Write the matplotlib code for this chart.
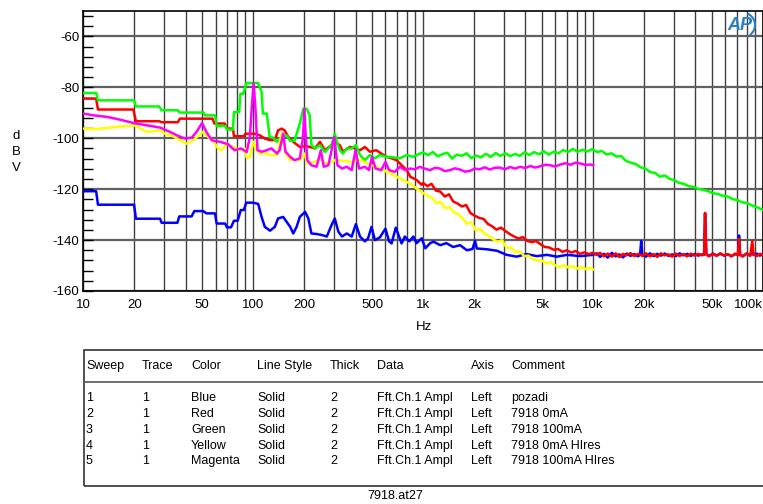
import matplotlib
matplotlib.use("Agg")
import matplotlib.pyplot as plt
from matplotlib.ticker import FixedLocator, MultipleLocator
from matplotlib.patches import Arc, Rectangle
from matplotlib.lines import Line2D

plt.rcParams['font.family'] = ['Liberation Sans', 'DejaVu Sans']
plt.rcParams['axes.unicode_minus'] = False

# sweep 1 - blue (pozadi)
blue_f = [10, 11.9, 12.2, 19.9, 20.4, 28.3, 28.9, 35.8, 36.7, 43.4, 45, 50.8, 53, 59.6,
          60.9, 68.4, 70, 74, 77, 81, 84.5, 88, 91, 100, 107, 112, 117, 125.6, 134, 140,
          150, 157, 165, 172, 180, 188, 202, 211, 220, 236, 253, 271, 289, 302, 317, 333,
          355, 380, 402, 425, 454, 474, 497, 520, 557, 600, 630, 652, 690, 747, 780, 830,
          875, 915, 980, 1030, 1100, 1150, 1260, 1370, 1500, 1650, 1810, 1950, 2020, 2070,
          2370, 2720, 3100, 3550, 4070, 4660, 5350, 6130, 7030, 8430, 10000,
          10500, 11000, 11600, 12200, 12900, 13600, 14300, 15000, 15800, 16600, 17500,
          18400, 18900, 19200, 19500, 20500, 21600, 22700, 23900, 25100, 26400, 27800,
          29200, 30700, 32300, 34000, 35800, 37600, 39600, 41600, 43800, 45000, 45600,
          46400, 48200, 50700, 53300, 56100, 59000, 62000, 65200, 68600, 71200, 72300,
          73400, 76000, 80000, 84000, 86500, 88000, 92000, 96000, 100000]
blue_db = [-120.8, -120.8, -126.1, -126.1, -131.6, -131.6, -133.2, -133.2, -130.7, -130.7,
           -128.6, -128.6, -129.5, -129.5, -133.5, -133.5, -135.0, -135.0, -132.4, -132.4,
           -128.2, -128.2, -125.3, -125.3, -125.8, -130.9, -134.8, -136.3, -134.8, -131.5,
           -130.9, -132.8, -134.8, -137.4, -134.8, -130.9, -128.9, -131.5, -137.4, -137.6,
           -138.0, -138.6, -134.1, -131.5, -136.7, -138.6, -137.4, -138.6, -133.7, -138.6,
           -140.5, -139.3, -134.8, -140.0, -138.9, -135.5, -140.5, -141.3, -135.1, -141.3,
           -138.6, -140.5, -138.6, -141.2, -139.3, -143.2, -141.2, -140.6, -142.0, -141.2,
           -142.7, -142.0, -144.0, -143.5, -140.3, -143.3, -143.6, -144.2, -145.8, -146.5,
           -145.5, -146.3, -145.8, -146.5, -145.8, -146.3, -145.8,
           -145.2, -146.6, -145.4, -146.9, -145.0, -146.4, -145.6, -146.8, -145.3, -146.2,
           -145.5, -146.4, -145.6, -140.4, -145.8, -146.5, -145.2, -146.3, -145.4, -146.1,
           -145.3, -146.2, -145.6, -146.3, -145.2, -146.0, -145.4, -146.2, -145.5, -146.1,
           -145.6, -145.8, -129.5, -145.5, -146.2, -145.3, -146.0, -145.4, -146.1, -145.6,
           -146.3, -145.5, -145.8, -138.2, -145.9, -146.2, -145.4, -146.0, -144.8, -145.9,
           -145.3, -146.1, -145.5]

# sweep 2 - red (7918 0mA)
red_f = [10, 11.9, 12.2, 19.7, 20.4, 28, 28.9, 36, 37, 57.7, 59, 68, 70, 76, 77, 88, 90,
         102, 109, 117, 125, 134, 140, 147, 153, 161, 172, 188, 206, 215, 231, 247, 264,
         283, 302, 323, 338, 370, 396, 425, 454, 486, 530, 567, 609, 652, 698, 747, 800,
         840, 915, 980, 1000, 1060, 1120, 1190, 1260, 1340, 1420, 1500, 1600, 1690, 1790,
         1900, 2010, 2140, 2270, 2400, 2550, 2700, 2870, 3040, 3230, 3430, 3640, 3860,
         4100, 4350, 4620, 4900, 5200, 5520, 5860, 6220, 6600, 7010, 7440, 7900, 8380,
         8900, 9450,
         10000, 10500, 11000, 11600, 12200, 12900, 13600, 14300, 15000, 15800, 16600,
         17500, 18400, 19500, 20500, 21600, 22700, 23900, 25100, 26400, 27800, 29200,
         30700, 32300, 34000, 35800, 37600, 39600, 41600, 43800, 45000, 45600, 46400,
         48200, 50700, 53300, 56100, 59000, 62000, 65200, 68600, 71200, 72300, 73400,
         76000, 80000, 84000, 86500, 88000, 92000, 96000, 100000]
red_db = [-84.4, -84.4, -88.7, -88.7, -93.3, -93.3, -93.7, -93.7, -92.3, -92.3, -94.2,
          -94.2, -96.2, -96.2, -99.2, -99.2, -98.2, -98.2, -98.8, -100.1, -100.7, -100.7,
          -96.9, -96.2, -96.9, -99.5, -101.4, -103.4, -103.1, -103.4, -104.0, -101.4,
          -104.7, -103.1, -101.4, -102.7, -105.3, -103.4, -104.0, -104.7, -103.4, -105.3,
          -104.7, -106.0, -107.3, -107.9, -108.6, -110.6, -112.5, -115.1, -116.4, -118.3,
          -117.6, -118.8, -117.9, -120.6, -120.9, -122.9, -122.0, -124.8, -125.7, -126.8,
          -126.2, -129.4, -130.4, -131.3, -131.7, -133.6, -134.6, -135.9, -135.1, -136.4,
          -137.6, -138.6, -139.4, -138.8, -140.3, -140.8, -140.4, -141.6, -142.7, -142.9,
          -143.8, -143.5, -144.6, -144.0, -144.9, -144.3, -145.4, -144.8, -145.5,
          -145.0, -145.8, -145.0, -146.4, -145.3, -146.5, -145.2, -146.7, -145.4, -146.0,
          -145.1, -146.3, -145.4, -146.2, -145.2, -146.4, -145.5, -146.6, -145.2, -146.0,
          -145.6, -146.5, -145.3, -146.2, -145.5, -146.4, -145.3, -146.1, -145.4, -146.0,
          -145.6, -129.3, -145.7, -146.4, -145.4, -146.2, -145.2, -146.0, -145.5, -146.4,
          -145.3, -146.0, -139.5, -145.8, -146.5, -145.2, -146.2, -140.3, -145.6, -146.3,
          -145.4, -145.8]

# sweep 3 - green (7918 100mA)
green_f = [10, 11.9, 12.2, 19.9, 20.4, 28, 28.9, 36, 37, 51, 52, 59.6, 61, 68.6, 70, 76,
           77, 82.7, 84, 87.5, 91, 107, 112, 114, 120, 125, 131, 138, 147, 157, 165, 175,
           188, 197, 206, 215, 220, 231, 247, 264, 289, 302, 313, 323, 338, 355, 380, 402,
           425, 454, 486, 520, 555, 609, 670, 730, 800, 875, 955,
           1000, 1070, 1140, 1220, 1300, 1390, 1480, 1580, 1690, 1800, 1920, 2050, 2190,
           2340, 2500, 2670, 2850, 3040, 3250, 3470, 3700, 3950, 4220, 4500, 4810, 5130,
           5480, 5850, 6250, 6670, 7120, 7600, 8120, 8670, 9250, 9880, 10550, 11260, 12020,
           12840, 13710, 14640, 15630, 16690, 17820, 19030, 20320, 21700, 23170, 24740,
           26420, 28210, 30120, 32160, 34340, 36670, 39160, 41810, 44650, 47680, 50910,
           54360, 58050, 61990, 66190, 70680, 75470, 80590, 86060, 91890, 100000]
green_db = [-82.2, -82.2, -85.1, -85.1, -87.5, -87.5, -89.0, -89.0, -89.9, -89.9, -91.0,
            -91.0, -95.2, -95.2, -96.6, -96.6, -89.7, -89.7, -82.5, -82.5, -78.3, -78.3,
            -81.8, -90.3, -90.3, -99.5, -99.8, -101.4, -99.5, -98.8, -101.0, -101.0, -94.2,
            -88.4, -88.4, -91.0, -102.7, -104.0, -102.7, -105.4, -102.7, -98.2, -102.0,
            -104.7, -106.0, -104.0, -104.0, -102.7, -106.6, -108.6, -106.6, -107.9, -106.6,
            -107.3, -107.5, -107.9, -106.6, -107.3, -106.0,
            -105.6, -106.6, -105.4, -107.1, -106.2, -105.7, -108.0, -106.4, -106.9, -105.9,
            -107.8, -106.8, -107.5, -106.1, -107.3, -105.8, -106.9, -105.9, -107.0, -106.2,
            -106.9, -105.5, -106.6, -105.4, -106.3, -105.1, -106.4, -105.3, -105.9, -104.6,
            -105.4, -104.2, -105.3, -104.5, -105.2, -104.3, -105.4, -105.0, -106.4, -105.9,
            -107.2, -107.0, -108.9, -109.6, -110.1, -111.4, -111.9, -113.3, -113.6, -115.1,
            -114.6, -115.9, -116.5, -117.6, -117.9, -118.9, -119.1, -119.9, -120.3, -120.8,
            -121.6, -121.9, -122.6, -122.9, -123.9, -124.3, -125.2, -125.4, -126.4, -127.0,
            -128.2]

# sweep 4 - yellow (7918 0mA HIres)
yellow_f = [10, 11.9, 14.4, 17.2, 20.2, 23.6, 28.3, 30.2, 33.8, 37, 40.6, 44.4, 50.4, 54.4,
            58.1, 62.2, 65.1, 69.9, 76.1, 83.4, 89.2, 91.5, 95.6, 100, 104.8, 109, 120, 128,
            138, 147, 155, 165, 175, 188, 200, 208, 231, 247, 264, 289, 302, 338, 380, 425,
            474, 530, 583, 640, 698, 765, 838, 915,
            1000, 1060, 1130, 1200, 1270, 1350, 1430, 1520, 1610, 1710, 1810, 1920, 2040,
            2160, 2300, 2440, 2590, 2750, 2920, 3100, 3290, 3490, 3700, 3930, 4170, 4430,
            4700, 4990, 5300, 5620, 5970, 6340, 6730, 7140, 7580, 8050, 8540, 9070, 9620,
            10000]
yellow_db = [-96.2, -96.4, -95.8, -95.3, -95.0, -97.5, -96.9, -98.2, -99.2, -100.8, -102.1,
             -100.8, -97.5, -99.5, -101.1, -104.0, -104.7, -102.1, -103.4, -104.7, -104.0,
             -107.6, -107.3, -101.4, -104.7, -106.0, -106.0, -106.6, -106.6, -98.2, -106.0,
             -108.6, -108.0, -108.6, -106.0, -109.9, -109.3, -108.0, -109.9, -109.3, -108.6,
             -108.9, -109.3, -108.4, -110.1, -111.2, -112.5, -113.8, -115.1, -116.5, -117.8,
             -119.7,
             -121.5, -122.6, -123.4, -125.6, -125.0, -127.5, -127.0, -129.2, -129.8, -131.6,
             -133.6, -133.0, -136.2, -135.6, -137.5, -138.4, -139.8, -140.6, -140.1, -143.1,
             -142.9, -144.8, -144.4, -146.3, -146.1, -147.5, -147.9, -148.0, -149.2, -148.6,
             -149.9, -150.6, -149.8, -150.7, -150.2, -151.2, -150.6, -151.4, -150.9, -151.5]

# sweep 5 - magenta (7918 100mA HIres)
magenta_f = [10, 11.5, 13.8, 16.5, 19.7, 23.6, 28.3, 32.4, 35.4, 39.6, 43.4, 46.4, 50, 53,
             57, 63.8, 71, 77.6, 84.8, 91.5, 95.6, 98, 100.5, 103, 106, 112, 120, 128, 138,
             143, 150, 155, 165, 175, 188, 196, 200, 204, 208, 220, 236, 250, 260, 277, 300,
             313, 333, 355, 380, 400, 420, 454, 480, 500, 525, 567, 600, 630, 680, 730, 780,
             840, 895, 955, 1030, 1095, 1180, 1256, 1340, 1440, 1540, 1650, 1760, 1890,
             2010, 2150, 2300, 2470, 2640, 2830, 3030, 3250, 3480, 3720, 3990, 4270, 4570,
             4890, 5240, 5600, 6000, 6420, 6870, 7360, 7870, 8430, 9000, 9600, 10000]
magenta_db = [-90.3, -91.0, -91.6, -92.7, -94.0, -94.9, -95.8, -97.5, -98.8, -100.1, -99.8,
              -97.5, -94.0, -97.5, -100.8, -101.4, -102.3, -104.7, -104.0, -105.4, -99.5,
              -88.0, -78.4, -88.0, -104.7, -105.3, -104.7, -104.0, -106.0, -104.7, -98.2,
              -105.3, -107.3, -108.6, -107.9, -100.0, -88.4, -100.0, -108.6, -110.6, -111.2,
              -104.7, -111.2, -110.6, -99.5, -110.6, -111.9, -111.2, -112.5, -104.7, -111.9,
              -111.2, -112.5, -107.3, -111.9, -112.5, -109.3, -112.5, -113.2, -111.2, -112.5,
              -111.9, -112.2, -111.2, -112.0, -112.5, -111.6, -111.9, -112.9, -112.5, -111.8,
              -112.3, -113.1, -112.8, -111.9, -112.2, -111.4, -112.3, -111.6, -111.5, -112.2,
              -111.3, -111.9, -111.2, -111.7, -110.9, -111.5, -111.0, -110.4, -110.6, -111.1,
              -110.3, -109.8, -110.4, -109.6, -109.9, -110.5, -110.3, -110.6]

x_labels = ["10", "20", "50", "100", "200", "500", "1k", "2k", "5k", "10k", "20k", "50k", "100k"]
x_label_pos = [10, 20, 50, 100, 200, 500, 1000, 2000, 5000, 10000, 20000, 50000, 100000]

table_header = ["Sweep", "Trace", "Color", "Line Style", "Thick", "Data", "Axis", "Comment"]
table_rows = [
    ["1", "1", "Blue", "Solid", "2", "Fft.Ch.1 Ampl", "Left", "pozadi"],
    ["2", "1", "Red", "Solid", "2", "Fft.Ch.1 Ampl", "Left", "7918 0mA"],
    ["3", "1", "Green", "Solid", "2", "Fft.Ch.1 Ampl", "Left", "7918 100mA"],
    ["4", "1", "Yellow", "Solid", "2", "Fft.Ch.1 Ampl", "Left", "7918 0mA HIres"],
    ["5", "1", "Magenta", "Solid", "2", "Fft.Ch.1 Ampl", "Left", "7918 100mA HIres"],
]

W, H = 763, 504
fig = plt.figure(figsize=(W / 100, H / 100), dpi=100)


def px(x, y):
    return x / W, 1 - y / H


ax = fig.add_axes([83.3 / W, 1 - 291 / H, (W - 83.3) / W, 280 / H])

traces = [(blue_f, blue_db, "#0000ff"), (red_f, red_db, "#ff0000"),
          (green_f, green_db, "#00ff00"), (yellow_f, yellow_db, "#ffff00"),
          (magenta_f, magenta_db, "#ff00ff")]
for f, db, c in traces:
    ax.plot(f, db, color=c, lw=1.8, zorder=3)

ax.set_xscale("log")
ax.set_xlim(10, 100000)
ax.set_ylim(-160, -50)

minor_pos = [m * 10 ** d for d in range(1, 5) for m in range(1, 10)] + [100000]
ax.xaxis.set_major_locator(FixedLocator(x_label_pos))
ax.xaxis.set_minor_locator(FixedLocator(minor_pos))
ax.set_xticklabels(x_labels)
ax.tick_params(axis="x", which="both", length=0, labelsize=9.5, pad=6)
ax.get_xticklabels()[-1].set_ha("right")
ax.grid(True, axis="x", which="both", color="#404040", lw=1.0, zorder=1)

ax.set_yticks(range(-160, -59, 20))
ax.yaxis.set_minor_locator(MultipleLocator(4))
ax.tick_params(axis="y", which="both", direction="in", length=7, width=1, labelsize=9.5, pad=3)
ax.grid(True, axis="y", which="major", color="#606060", lw=1.6, zorder=1)

for s in ax.spines.values():
    s.set_color("black")
    s.set_linewidth(1.2)

fig.text(*px(424, 327), "Hz", ha="center", va="center", fontsize=9.5)
fig.text(*px(16, 152), "d\nB\nV", ha="center", va="center", fontsize=9.5, linespacing=1.45)

# AP logo
fig.text(*px(740, 26), "AP", ha="center", va="center", fontsize=13, style="italic",
         color="#2a7fc0", fontweight="bold")
fig.add_artist(Arc(px(741, 25), 28 / W, 26 / H, theta1=-60, theta2=70,
                   transform=fig.transFigure, color="#2a7fc0", lw=1.5))

# sweep table
fig.add_artist(Rectangle(px(84, 486), (W - 84 + 5) / W, (486 - 350) / H, fill=False,
                         edgecolor="#333333", lw=1.2, transform=fig.transFigure))
fig.add_artist(Line2D([84 / W, 1], [1 - 382 / H] * 2, color="#555555", lw=1.2,
                      transform=fig.transFigure))
col_x = [86, 142, 191, 257, 330, 377, 471, 511]
for x, t in zip(col_x, table_header):
    fig.text(*px(x, 366), t, ha="left", va="center", fontsize=9)
row_y = [398, 414, 430, 446, 461]
for y, row in zip(row_y, table_rows):
    for x, t in zip(col_x, row):
        fig.text(*px(x, y), t, ha="left", va="center", fontsize=9)

fig.text(*px(395, 496), "7918.at27", ha="center", va="center", fontsize=9)

fig.savefig("out.png", dpi=100)
